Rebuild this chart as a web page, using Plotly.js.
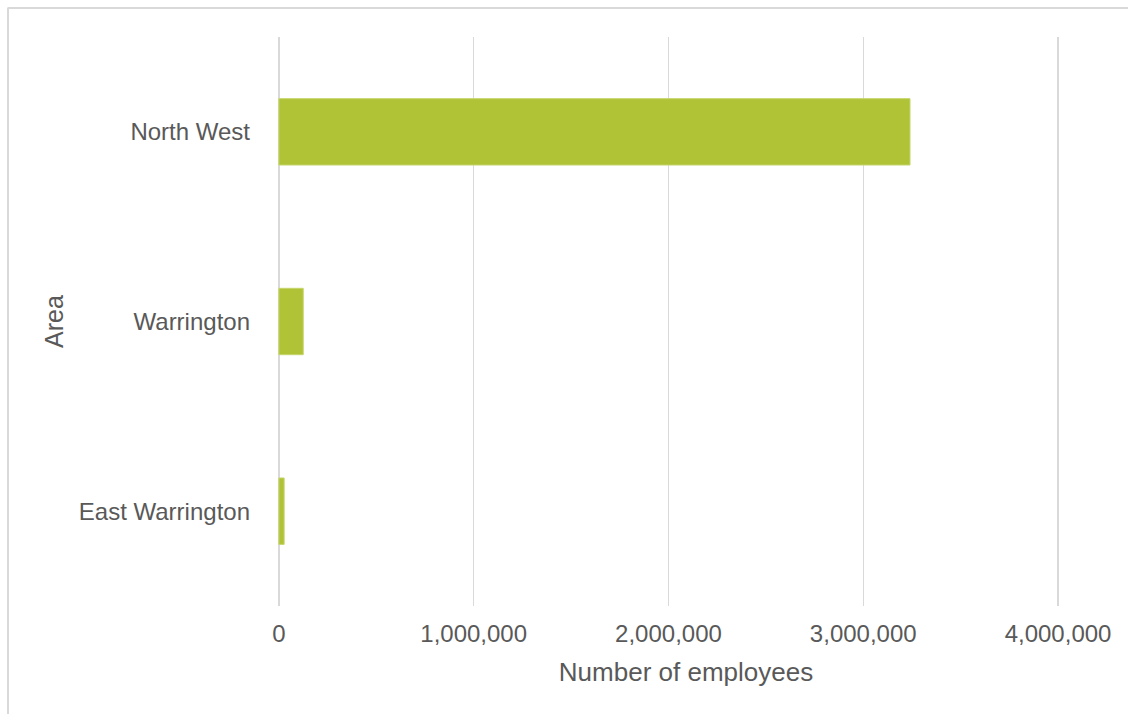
<!DOCTYPE html>
<html>
<head>
<meta charset="utf-8">
<script src="https://cdn.plot.ly/plotly-3.0.1.min.js"></script>
<style>html,body{margin:0;padding:0;background:#fff;}#chart{width:1128px;height:714px;}</style>
</head>
<body>
<div id="chart"></div>
<script>
const areas = ["East Warrington", "Warrington", "North West"];
const employees = [27000, 125000, 3240000];
const xTickVals = [0, 1000000, 2000000, 3000000, 4000000];
const xTickText = ["0", "1,000,000", "2,000,000", "3,000,000", "4,000,000"];

const W = 1128, H = 714;
const X0 = 278.5, X4 = 1058;            // pixel positions of 0 and 4,000,000
const k = (X4 - X0) / 4000000;           // px per employee
const xMin = -20000, xMax = 4200000;
const L = X0 + xMin * k, R = X0 + xMax * k, T = 37, B = 606;
function px(x){ return (x - L) / (R - L); }
function py(y){ return (B - y) / (B - T); }

const trace = {
  type: "bar",
  orientation: "h",
  y: areas,
  x: employees,
  marker: { color: "#b0c336", line: { color: "#c6d66a", width: 1 } },
  hoverinfo: "x+y"
};

const layout = {
  width: W, height: H,
  margin: { l: L, r: W - R, t: T, b: H - B, pad: 0 },
  paper_bgcolor: "#ffffff",
  plot_bgcolor: "#ffffff",
  showlegend: false,
  bargap: 0.65,
  font: { family: "Liberation Sans, Arial, sans-serif", color: "#595959", size: 24 },
  xaxis: {
    range: [xMin, xMax],
    tickvals: xTickVals,
    ticktext: xTickText,
    showgrid: true,
    gridcolor: "#d9d9d9",
    gridwidth: 1.5,
    zeroline: false,
    showline: false,
    ticks: "",
    ticklabelstandoff: 11,
    tickfont: { size: 24, color: "#595959" },
    title: { text: "Number of employees", font: { size: 26, color: "#595959" }, standoff: 16 }
  },
  yaxis: {
    type: "category",
    categoryorder: "array",
    categoryarray: areas,
    showgrid: false,
    zeroline: false,
    showline: false,
    ticks: "",
    ticklabelstandoff: 24,
    tickfont: { size: 24, color: "#595959" },
    title: { text: "Area", font: { size: 25, color: "#595959" }, standoff: 8 }
  },
  shapes: [
    { type: "line", xref: "paper", yref: "paper", x0: px(7), x1: px(1140), y0: py(8), y1: py(8), line: { color: "#d9d9d9", width: 2 }, layer: "below" },
    { type: "line", xref: "paper", yref: "paper", x0: px(7.5), x1: px(7.5), y0: py(8), y1: py(720), line: { color: "#d9d9d9", width: 2 }, layer: "below" }
  ]
};

Plotly.newPlot("chart", [trace], layout, { displayModeBar: false, staticPlot: true });
</script>
</body>
</html>
